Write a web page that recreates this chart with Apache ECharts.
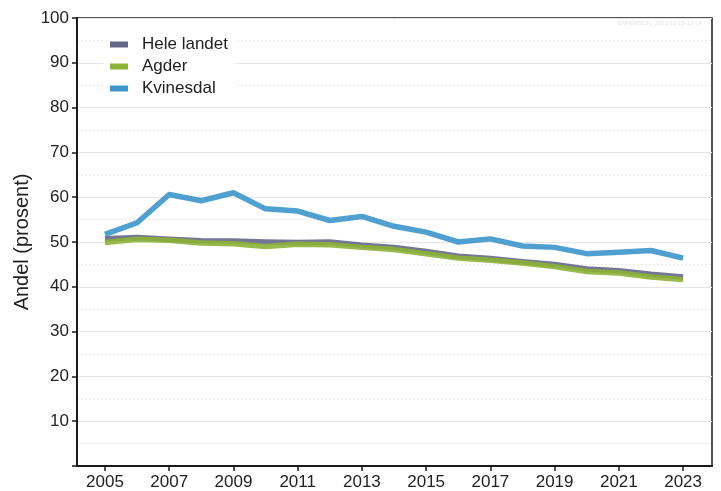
<!DOCTYPE html>
<html>
<head>
<meta charset="utf-8">
<script src="https://cdn.jsdelivr.net/npm/echarts@6/dist/echarts.min.js"></script>
<style>
  html, body { margin: 0; padding: 0; background: #fff; }
  #chart { width: 721px; height: 491px; }
</style>
</head>
<body>
<div id="chart"></div>
<script>
var years = [2005, 2006, 2007, 2008, 2009, 2010, 2011, 2012, 2013, 2014,
             2015, 2016, 2017, 2018, 2019, 2020, 2021, 2022, 2023];
var yearLabels = [2005, 2007, 2009, 2011, 2013, 2015, 2017, 2019, 2021, 2023];
var heleLandet = [50.7, 51.0, 50.6, 50.3, 50.2, 50.0, 49.9, 50.0, 49.3, 48.8,
                  47.9, 46.8, 46.3, 45.6, 45.0, 44.0, 43.6, 42.8, 42.2];
var agder = [49.9, 50.6, 50.4, 49.8, 49.6, 49.0, 49.5, 49.4, 48.8, 48.3,
             47.4, 46.4, 45.9, 45.3, 44.5, 43.4, 43.1, 42.2, 41.6];
var kvinesdal = [51.7, 54.3, 60.6, 59.2, 61.0, 57.4, 56.9, 54.8, 55.7, 53.5,
                 52.2, 50.0, 50.7, 49.1, 48.8, 47.4, 47.7, 48.1, 46.4];
var seriesNames = ['Hele landet', 'Agder', 'Kvinesdal'];
var seriesColors = ['#65678a', '#8db236', '#3c96cb'];

function pairs(vals) {
  var out = [];
  for (var i = 0; i < years.length; i++) {
    out.push([years[i], vals[i]]);
  }
  return out;
}

var chart = echarts.init(document.getElementById('chart'));
var lineData = [heleLandet, agder, kvinesdal];
var series = [];
for (var i = 0; i < seriesNames.length; i++) {
  series.push({
    name: seriesNames[i],
    type: 'line',
    data: pairs(lineData[i]),
    symbol: 'none',
    lineStyle: { width: 5.5, color: seriesColors[i], opacity: 0.9, join: 'round' },
    itemStyle: { color: seriesColors[i] },
    z: 3 + i
  });
}

chart.setOption({
  animation: false,
  textStyle: { fontFamily: 'Liberation Sans, Arial, sans-serif' },
  grid: {
    left: 77, right: 9, top: 18, bottom: 24,
    show: true, borderColor: '#1a1a1a', borderWidth: 1.5, backgroundColor: 'transparent'
  },
  graphic: [{
    type: 'text',
    right: 19,
    top: 20,
    style: { text: 'ENPERSON_2023-11-15-13-14', fontSize: 6, fill: '#e2e2e2', fontFamily: 'Liberation Sans' }
  }],
  legend: {
    orient: 'vertical',
    left: 104,
    top: 32,
    icon: 'rect',
    itemWidth: 18,
    itemHeight: 6,
    itemGap: 5,
    backgroundColor: '#ffffff',
    padding: [4, 8, 4, 6],
    textStyle: { fontSize: 17, color: '#222', padding: [0, 0, 0, 9] },
    data: seriesNames
  },
  xAxis: {
    type: 'value',
    min: 2004.13,
    max: 2023.9,
    axisLine: { show: true, lineStyle: { color: '#1a1a1a', width: 2 } },
    axisTick: { show: true, length: 5, customValues: yearLabels, lineStyle: { color: '#1a1a1a', width: 1.5 } },
    axisLabel: {
      customValues: yearLabels, fontSize: 17, color: '#222', margin: 8,
      formatter: function (v) { return String(Math.round(v)); }
    },
    splitLine: { show: false }
  },
  yAxis: {
    type: 'value',
    min: 0,
    max: 100,
    interval: 10,
    name: 'Andel (prosent)',
    nameLocation: 'middle',
    nameGap: 45,
    nameMoveOverlap: false,
    nameTextStyle: { fontSize: 20, color: '#222' },
    axisLine: { show: true, lineStyle: { color: '#1a1a1a', width: 2 } },
    axisTick: { show: true, length: 5, lineStyle: { color: '#1a1a1a', width: 1.5 } },
    axisLabel: {
      fontSize: 17, color: '#222', margin: 8,
      formatter: function (v) { return v === 0 ? '' : String(v); }
    },
    splitLine: { show: true, lineStyle: { color: '#e6e6e6', width: 1 } },
    minorTick: { show: false, splitNumber: 2 },
    minorSplitLine: { show: true, lineStyle: { color: '#e8e8e8', width: 1, type: [2, 2] } }
  },
  series: series
});
</script>
</body>
</html>
